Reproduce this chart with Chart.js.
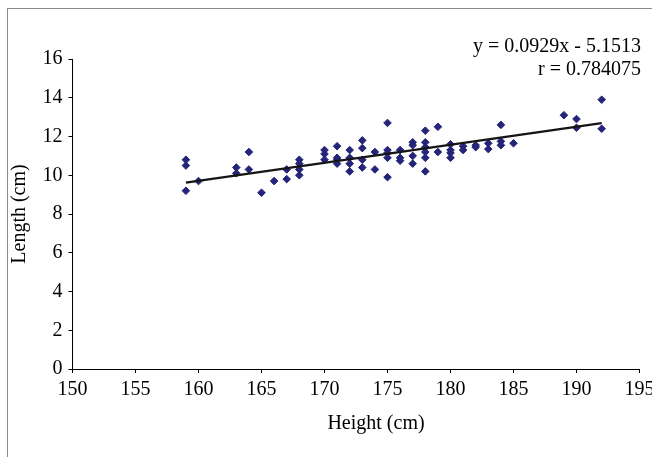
<!DOCTYPE html>
<html>
<head>
<meta charset="utf-8">
<script src="https://cdn.jsdelivr.net/npm/chart.js@4/dist/chart.umd.min.js"></script>
<style>
  html, body { margin: 0; padding: 0; background: #fff; }
  #chart { display: block; }
</style>
</head>
<body>
<canvas id="chart" width="652" height="457"></canvas>
<script>
const heights = [159, 159, 159, 160, 163, 163, 164, 164, 165, 166, 167, 167,
  168, 168, 168, 168, 170, 170, 170, 171, 171, 171, 171, 172, 172, 172, 172,
  173, 173, 173, 173, 174, 174, 175, 175, 175, 175, 175, 176, 176, 176,
  177, 177, 177, 177, 178, 178, 178, 178, 178, 178, 179, 179,
  180, 180, 180, 180, 181, 181, 182, 182, 183, 183, 184, 184, 184, 185,
  189, 190, 190, 192, 192];
const lengths = [10.8, 10.5, 9.2, 9.7, 10.4, 10.1, 11.2, 10.3, 9.1, 9.7, 10.3, 9.8,
  10.8, 10.6, 10.3, 10.0, 11.3, 11.1, 10.8, 11.5, 10.9, 10.8, 10.6, 11.3, 10.9, 10.6, 10.2,
  11.8, 11.4, 10.8, 10.4, 11.2, 10.3, 12.7, 11.3, 11.15, 10.9, 9.9, 11.3, 10.9, 10.75,
  11.7, 11.55, 11.0, 10.6, 12.3, 11.7, 11.45, 11.2, 10.9, 10.2, 12.5, 11.2,
  11.6, 11.3, 11.15, 10.9, 11.5, 11.3, 11.55, 11.45, 11.65, 11.35, 12.6, 11.75, 11.55, 11.65,
  13.1, 12.9, 12.45, 13.9, 12.4];

// ends of the fitted line
const trendX = [159, 192];
const trendY = [9.62, 12.69];

const equationText = "y = 0.0929x - 5.1513";
const rText = "r = 0.784075";
const xTitle = "Height (cm)";
const yTitle = "Length (cm)";

const serif = "'Liberation Serif', 'Times New Roman', serif";
const pointColor = "#242479";

const points = heights.map((h, i) => ({ x: h, y: lengths[i] }));
const trend = trendX.map((x, i) => ({ x: x, y: trendY[i] }));

const extras = {
  id: "extras",
  beforeDraw(chart) {
    const ctx = chart.ctx;
    ctx.save();
    ctx.fillStyle = "#fff";
    ctx.fillRect(0, 0, chart.width, chart.height);
    ctx.strokeStyle = "#8a8a8a";
    ctx.lineWidth = 1;
    ctx.strokeRect(7.5, 8.5, 700, 500);
    ctx.restore();
  },
  afterDraw(chart) {
    const ctx = chart.ctx;
    ctx.save();
    ctx.fillStyle = "#000";
    ctx.font = "20px " + serif;
    ctx.textBaseline = "middle";
    ctx.textAlign = "right";
    ctx.fillText(equationText, 641, 47);
    ctx.fillText(rText, 641, 70);
    ctx.textAlign = "center";
    ctx.fillText(xTitle, 376, 424);
    ctx.restore();
  }
};

new Chart(document.getElementById("chart"), {
  type: "scatter",
  data: {
    datasets: [
      {
        type: "line",
        data: trend,
        borderColor: "#151515",
        borderWidth: 2.5,
        pointRadius: 0,
        fill: false,
        order: 0
      },
      {
        data: points,
        pointStyle: "rectRot",
        pointRadius: 3.8,
        backgroundColor: pointColor,
        borderColor: pointColor,
        borderWidth: 1,
        order: 1
      }
    ]
  },
  options: {
    responsive: false,
    animation: false,
    devicePixelRatio: 1,
    layout: { padding: { left: 8, top: 59, right: 12.5, bottom: 0 } },
    plugins: {
      legend: { display: false },
      tooltip: { enabled: false }
    },
    scales: {
      x: {
        type: "linear",
        min: 150,
        max: 195,
        ticks: {
          stepSize: 5,
          color: "#000",
          padding: 5,
          maxRotation: 0,
          font: { family: serif, size: 20 }
        },
        grid: { drawOnChartArea: false, drawTicks: true, tickLength: 4, color: "#000" },
        border: { color: "#000", width: 1 },
        afterFit(scale) {
          scale.height = 88;
          scale.paddingLeft = 0;
          scale.paddingRight = 0;
        }
      },
      y: {
        min: 0,
        max: 16,
        ticks: {
          stepSize: 2,
          color: "#000",
          padding: 6,
          font: { family: serif, size: 20 }
        },
        grid: { drawOnChartArea: false, drawTicks: true, tickLength: 4, color: "#000" },
        border: { color: "#000", width: 1 },
        title: {
          display: true,
          text: yTitle,
          color: "#000",
          padding: 0,
          font: { family: serif, size: 20 }
        },
        afterFit(scale) {
          scale.width = 64.5;
        }
      }
    }
  },
  plugins: [extras]
});
</script>
</body>
</html>
